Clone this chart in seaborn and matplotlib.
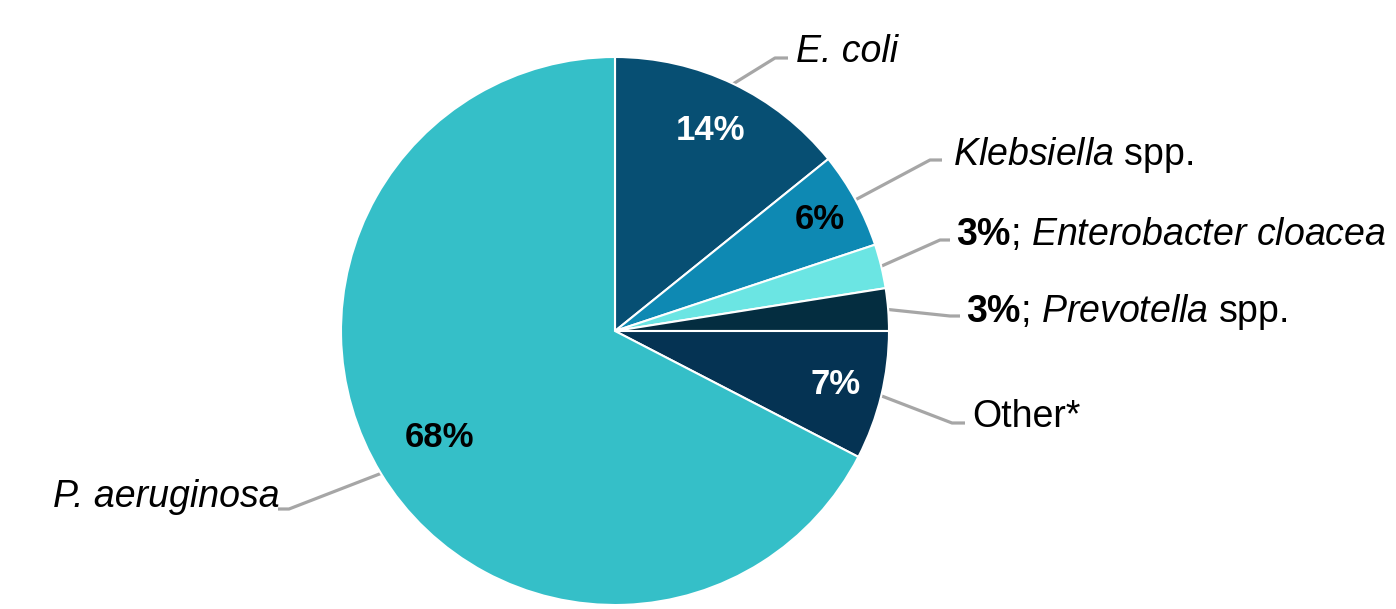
import numpy as np
import matplotlib
matplotlib.use("Agg")
import matplotlib.pyplot as plt
import seaborn as sns

sns.set_style("white")
plt.rcParams['font.family'] = ['Liberation Sans', 'DejaVu Sans']
plt.rcParams['mathtext.fontset'] = 'custom'
plt.rcParams['mathtext.rm'] = 'Liberation Sans'
plt.rcParams['mathtext.it'] = 'Liberation Sans:italic'
plt.rcParams['mathtext.bf'] = 'Liberation Sans:bold'

# Data (clockwise from 12 o'clock)
species = ['E. coli', 'Klebsiella spp.', 'Enterobacter cloacea', 'Prevotella spp.', 'Other*', 'P. aeruginosa']
shares = [14.2, 5.7, 2.6, 2.5, 7.6, 67.4]
pct_labels = ['14%', '6%', '3%', '3%', '7%', '68%']
colors = ['#074F73', '#0E89B3', '#6BE5E3', '#042D40', '#053353', '#35BFC8']

# label text as shown (mixed italic / bold)
outer_labels = [
    'E. coli',
    r'$\mathit{Klebsiella}$ spp.',
    r'$\mathbf{3\%}$; $\mathit{Enterobacter\ cloacea}$',
    r'$\mathbf{3\%}$; $\mathit{Prevotella}$ spp.',
    'Other*',
    'P. aeruginosa',
]
outer_style = ['italic', 'normal', 'normal', 'normal', 'normal', 'italic']
show_inner = [True, True, False, False, True, True]
inner_color = ['white', 'black', None, None, 'white', 'black']
inner_dist = [0.81, 0.85, 0, 0, 0.83, 0.75]

# layout in pixels (top-left origin): elbow, line end, text anchor, alignment
W, H = 1396, 609
leader_layout = [
    ((775, 58), (788, 58), (796, 62), 'left'),
    ((930, 160), (942, 160), (953, 165), 'left'),
    ((940, 240), (950, 240), (956, 245), 'left'),
    ((950, 316), (960, 316), (966, 322), 'left'),
    ((952, 423), (965, 423), (972, 427), 'left'),
    ((289, 509), (278, 509), (280, 507), 'right'),
]
cx, cy, R = 615, H - 331, 274

fig = plt.figure(figsize=(W / 100, H / 100), dpi=100)
ax = fig.add_axes([0, 0, 1, 1])

wedges, _ = ax.pie(shares, colors=colors, startangle=90, counterclock=False,
                   center=(cx, cy), radius=R, frame=False,
                   wedgeprops=dict(edgecolor='white', linewidth=1.5))

for i, w in enumerate(wedges):
    mid = np.deg2rad((w.theta1 + w.theta2) / 2)
    if show_inner[i]:
        r = R * inner_dist[i]
        ax.text(cx + r * np.cos(mid), cy + r * np.sin(mid), pct_labels[i],
                ha='center', va='center', fontsize=25, fontweight='bold',
                color=inner_color[i])
    elbow, end, txt, align = leader_layout[i]
    xs = [cx + R * np.cos(mid), elbow[0], end[0]]
    ys = [cy + R * np.sin(mid), H - elbow[1], H - end[1]]
    ax.plot(xs, ys, color='#A6A6A6', lw=2.3, solid_capstyle='butt', zorder=0)
    ax.text(txt[0], H - txt[1], outer_labels[i], ha=align, va='baseline',
            fontsize=27, fontstyle=outer_style[i], color='black')

ax.set_xlim(0, W)
ax.set_ylim(0, H)
ax.axis('off')

plt.savefig('out.png', dpi=100, facecolor='white')
